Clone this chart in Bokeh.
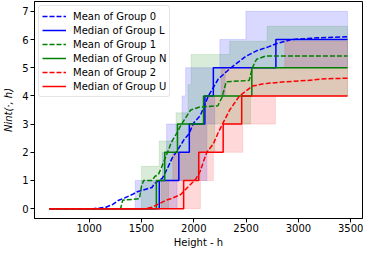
from bokeh.plotting import figure
from bokeh.models import FixedTicker, Range1d
from bokeh.embed import file_html
from bokeh.resources import INLINE

# ---------------- data ----------------
x_ticks = [1000, 1500, 2000, 2500, 3000, 3500]
y_ticks = [0, 1, 2, 3, 4, 5, 6, 7]
x_start = 620
x_end = 3470

# medians (step functions, value holds from x until next x)
med_L_x = [620, 1670, 1857, 1957, 2106, 2187, 2785]
med_L_y = [0, 1, 2, 3, 4, 5, 6]
med_N_x = [620, 1642, 1722, 1844, 2093, 2555]
med_N_y = [0, 1, 2, 3, 4, 5]
med_U_x = [620, 1903, 2047, 2281, 2458]
med_U_y = [0, 1, 2, 3, 4]

# means
mean0_x = [620, 1040, 1100, 1160, 1225, 1283, 1340, 1411, 1460, 1550, 1600, 1626, 1700, 1748,
           1794, 1841, 1907, 1953, 2000, 2062, 2140, 2234, 2355, 2496, 2600, 2720, 2795, 2935,
           3187, 3470]
mean0_y = [0, 0, 0.02, 0.05, 0.15, 0.3, 0.38, 0.5, 0.6, 0.7, 0.75, 0.9, 1.08, 1.43,
           1.8, 2.05, 2.45, 2.65, 3.05, 3.3, 4.0, 4.6, 5.0, 5.4, 5.6, 5.75, 5.86, 6.0,
           6.06, 6.1]
mean1_x = [620, 1300, 1320, 1480, 1500, 1520, 1600, 1630, 1660, 1690, 1738, 1760, 1785, 1841,
           1875, 1935, 1970, 2050, 2230, 2270, 2310, 2530, 2560, 2600, 2690, 3470]
mean1_y = [0, 0, 0.3, 0.35, 0.8, 1.0, 1.0, 1.15, 1.2, 1.45, 1.9, 2.1, 2.35, 2.7,
           2.95, 3.3, 3.5, 3.6, 3.65, 3.95, 4.5, 4.55, 5.0, 5.3, 5.42, 5.42]
mean2_x = [620, 1540, 1600, 1656, 1736, 1781, 1875, 1953, 2016, 2062, 2093, 2125, 2187, 2234,
           2281, 2343, 2437, 2561, 2654, 2717, 2870, 3091, 3215, 3470]
mean2_y = [0, 0, 0.05, 0.15, 0.3, 0.35, 0.5, 0.8, 1.03, 1.33, 1.68, 2.0, 2.3, 2.7,
           3.05, 3.5, 4.0, 4.35, 4.42, 4.45, 4.5, 4.55, 4.6, 4.63]

# bands (lower / upper step functions)
band0_up_x = [620, 1440, 1700, 1740, 1888, 1922, 2249, 2498]
band0_up_y = [0, 1, 2, 3, 4, 5, 6, 7]
band0_lo_x = [620, 1840, 2125, 2200, 2300]
band0_lo_y = [0, 1, 3, 4, 5]
band1_up_x = [620, 1500, 1670, 1830, 1945, 1975, 2343, 2701]
band1_up_y = [0, 1.5, 2.4, 3.4, 4.4, 5.47, 5.94, 6.47]
band1_lo_x = [620, 1760, 2060, 2200, 2542]
band1_lo_y = [0, 1, 2, 3, 4]
band2_up_x = [620, 1690, 1800, 1960, 2100, 2262, 2870]
band2_up_y = [0, 1, 2, 3, 4, 5, 5.94]
band2_lo_x = [620, 2063, 2187, 2468, 2780]
band2_lo_y = [0, 1, 2, 3, 4]

BLUE = "#0000ff"
GREEN = "#008000"
RED = "#ff0000"
FONT = "DejaVu Sans"


def step_path(xs, ys, xe):
    px, py = [], []
    for i, (xv, yv) in enumerate(zip(xs, ys)):
        nx = xs[i + 1] if i + 1 < len(xs) else xe
        px += [xv, nx]
        py += [yv, yv]
    return px, py


def band_poly(ux, uy, lx, ly, xe):
    px1, py1 = step_path(ux, uy, xe)
    px2, py2 = step_path(lx, ly, xe)
    return px1 + px2[::-1], py1 + py2[::-1]


p = figure(width=363, height=250, output_backend="svg", toolbar_location=None,
           x_range=Range1d(477, 3613), y_range=Range1d(-0.35, 7.35),
           min_border_left=30, min_border_right=1, min_border_top=1, min_border_bottom=30)
p.xgrid.visible = False
p.ygrid.visible = False
p.outline_line_color = "black"
p.outline_line_alpha = 1
p.outline_line_width = 1
p.background_fill_color = "white"

for ux, uy, lx, ly, c in [(band0_up_x, band0_up_y, band0_lo_x, band0_lo_y, BLUE),
                          (band1_up_x, band1_up_y, band1_lo_x, band1_lo_y, GREEN),
                          (band2_up_x, band2_up_y, band2_lo_x, band2_lo_y, RED)]:
    bx, by = band_poly(ux, uy, lx, ly, x_end)
    p.patch(bx, by, fill_color=c, fill_alpha=0.15, line_color=c, line_alpha=0.12, line_width=1)

p.line(mean0_x, mean0_y, color=BLUE, line_width=1.5, line_dash="5 2", legend_label="Mean of Group 0")
sx, sy = step_path(med_L_x, med_L_y, x_end)
p.line(sx, sy, color=BLUE, line_width=1.5, legend_label="Median of Group L")
p.line(mean1_x, mean1_y, color=GREEN, line_width=1.5, line_dash="5 2", legend_label="Mean of Group 1")
sx, sy = step_path(med_N_x, med_N_y, x_end)
p.line(sx, sy, color=GREEN, line_width=1.5, legend_label="Median of Group N")
p.line(mean2_x, mean2_y, color=RED, line_width=1.5, line_dash="5 2", legend_label="Mean of Group 2")
sx, sy = step_path(med_U_x, med_U_y, x_end)
p.line(sx, sy, color=RED, line_width=1.5, legend_label="Median of Group U")

p.xaxis.ticker = FixedTicker(ticks=x_ticks)
p.yaxis.ticker = FixedTicker(ticks=y_ticks)
for ax in (p.xaxis[0], p.yaxis[0]):
    ax.major_tick_out = 4
    ax.major_tick_in = 0
    ax.minor_tick_out = 0
    ax.minor_tick_in = 0
    ax.axis_line_color = "black"
    ax.major_tick_line_color = "black"
    ax.major_label_text_font = FONT
    ax.major_label_text_font_size = "10px"
    ax.major_label_text_color = "black"
    ax.axis_label_text_font = FONT
    ax.axis_label_text_font_size = "10px"
    ax.axis_label_text_color = "black"
    ax.major_label_standoff = 1
    ax.axis_label_standoff = 2

p.yaxis.major_label_standoff = 2
p.yaxis.axis_label_standoff = 5

p.xaxis.axis_label = "Height - h"
p.xaxis.axis_label_text_font_style = "normal"
p.yaxis.axis_label = "Nint(·, h)"
p.yaxis.axis_label_text_font_style = "italic"

lg = p.legend[0]
lg.location = "top_left"
lg.margin = 4
lg.padding = 3
lg.spacing = 0
lg.label_height = 14
lg.glyph_height = 14
lg.glyph_width = 24
lg.label_standoff = 7
lg.label_text_font = FONT
lg.label_text_font_size = "10px"
lg.label_text_color = "black"
lg.border_line_color = "#cccccc"
lg.border_line_width = 1
lg.border_radius = 3
lg.background_fill_alpha = 0.8

open("out.html", "w").write(file_html(p, INLINE))
